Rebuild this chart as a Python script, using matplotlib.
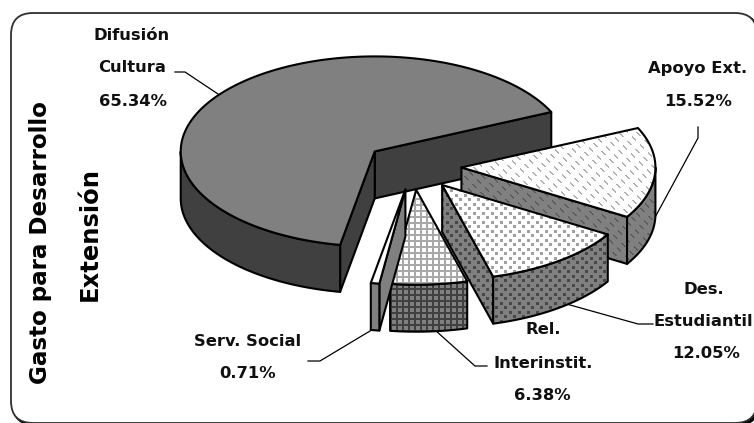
import numpy as np
import matplotlib
matplotlib.use('Agg')
import matplotlib.pyplot as plt
from matplotlib.colors import to_rgb
from matplotlib.patches import Polygon, FancyBboxPatch

# datos
nombres = ['Cultura', 'Serv. Social', 'Interinstit.', 'Estudiantil', 'Apoyo Ext.']
porcentajes = [65.34, 0.71, 6.38, 12.05, 15.52]

# estilo de cada sector: (cara superior, pared, trama, color trama sup, color trama pared)
estilos = [
    ('#808080', '#404040', None, None, None),
    ('#ffffff', '#808080', None, None, None),
    ('#ffffff', '#808080', 'rejilla', '#a8a8a8', '#404040'),
    ('#ffffff', '#808080', 'puntos', '#a0a0a0', '#484848'),
    ('#ffffff', '#808080', 'rayas', '#b0b0b0', '#5c5c5c'),
]

# geometria de la tarta en pixeles
CX, CY = 413, 166
RX, RY = 194, 95
ALTO = 47
EXPLOSION = 0.25
INICIO = 24.5

plt.rcParams['font.family'] = ['DejaVu Sans']

fig = plt.figure(figsize=(7.54, 4.23), dpi=100)
ax = fig.add_axes([0, 0, 1, 1])
ax.set_xlim(0, 754)
ax.set_ylim(423, 0)
ax.axis('off')

# marco redondeado
ax.add_patch(FancyBboxPatch((13, 15), 746, 410, boxstyle='round,pad=0,rounding_size=22',
                            fc='black', ec='black', lw=1.5))
ax.add_patch(FancyBboxPatch((11, 13), 746, 410, boxstyle='round,pad=0,rounding_size=22',
                            fc='white', ec='#303030', lw=1.3))

orden = [2]  # zorder creciente para pintar de atras hacia delante


def siguiente():
    orden[0] += 0.01
    return orden[0]


def mascara(trama):
    # mosaico de la trama en pixeles
    yy, xx = np.mgrid[0:423, 0:754]
    if trama == 'rejilla':
        return (xx % 6 < 2) | (yy % 6 < 2)
    if trama == 'puntos':
        return ((xx % 9 < 3) & (yy % 9 < 3)) | (((xx + 4) % 9 < 3) & ((yy + 4) % 9 < 3))
    # rayas cortas en diagonal
    d = (xx - yy) % 9
    return (d < 2) & ((xx + yy) % 16 < 8)


def arco(ox, oy, a1, a2, dy=0):
    t = np.radians(np.linspace(a1, a2, max(int(abs(a2 - a1)) * 2, 2)))
    return np.column_stack([ox + RX * np.cos(t), oy - RY * np.sin(t) + dy])


def cara(xy, color, trama, color_trama):
    fondo = Polygon(xy, closed=True, fc=color, ec='none', lw=0, zorder=siguiente())
    ax.add_patch(fondo)
    if trama:
        img = np.ones((423, 754, 3)) * to_rgb(color)
        img[mascara(trama)] = to_rgb(color_trama)
        im = ax.imshow(img, extent=(0, 754, 423, 0), aspect='auto', interpolation='nearest', zorder=siguiente())
        im.set_clip_path(fondo)
    ax.add_patch(Polygon(xy, closed=True, fc='none', ec='black', lw=1.5, joinstyle='round', zorder=siguiente()))


def sector(a1, a2, estilo):
    sup, pared, trama, c_sup, c_pared = estilo
    medio = np.radians((a1 + a2) / 2)
    ox = CX + EXPLOSION * RX * np.cos(medio)
    oy = CY - EXPLOSION * RY * np.sin(medio)

    # caras radiales visibles
    for a, lado in ((a1, -90), (a2, 90)):
        if np.sin(np.radians(a + lado)) < 0:
            p = arco(ox, oy, a, a)[0]
            cara([(ox, oy), p, (p[0], p[1] + ALTO), (ox, oy + ALTO)], pared, trama, c_pared)

    # pared exterior, solo la parte delantera (180 a 360)
    for base in (0, 360):
        b1 = max(a1, 180 + base)
        b2 = min(a2, 360 + base)
        if b1 < b2:
            arr = arco(ox, oy, b1, b2)
            aba = arco(ox, oy, b2, b1, dy=ALTO)
            cara(np.vstack([arr, aba]), pared, trama, c_pared)

    # cara superior
    cara(np.vstack([[(ox, oy)], arco(ox, oy, a1, a2)]), sup, trama, c_sup)


bordes = INICIO + np.cumsum([0] + porcentajes) * 3.6
for i in [0, 4, 3, 2, 1]:
    sector(bordes[i], bordes[i + 1], estilos[i])
ax.set_xlim(0, 754)
ax.set_ylim(423, 0)

# lineas guia
guias = [
    ([175, 185, 218], [72, 72, 94]),
    ([698, 698, 646], [127, 138, 234]),
    ([653, 638, 563], [324, 324, 303]),
    ([487, 475, 435], [366, 366, 330]),
    ([308, 320, 375], [361, 361, 328]),
]
for gx, gy in guias:
    ax.plot(gx, gy, color='black', lw=0.9, solid_joinstyle='miter', zorder=1.5)

# etiquetas
etiquetas = [
    ('Difusión', 132, 36), ('Cultura', 132, 68), ('65.34%', 133, 101),
    ('Apoyo Ext.', 698, 68), ('15.52%', 698, 101),
    ('Des.', 704, 289), ('Estudiantil', 703, 321), ('12.05%', 706, 353),
    ('Rel.', 543, 330), ('Interinstit.', 543, 363), ('6.38%', 542, 395),
    ('Serv. Social', 248, 341), ('0.71%', 248, 373),
]
for txt, x, y in etiquetas:
    ax.text(x, y, txt, ha='center', va='center', fontsize=11.8, fontweight='bold', color='#101010', zorder=4)

ax.text(41, 243, 'Gasto para Desarrollo', rotation=90, ha='center', va='center',
        fontsize=16.6, fontweight='bold', color='black', zorder=4)
ax.text(90, 234, 'Extensión', rotation=90, ha='center', va='center',
        fontsize=17.5, fontweight='bold', color='black', zorder=4)

fig.savefig('out.png', dpi=100)
